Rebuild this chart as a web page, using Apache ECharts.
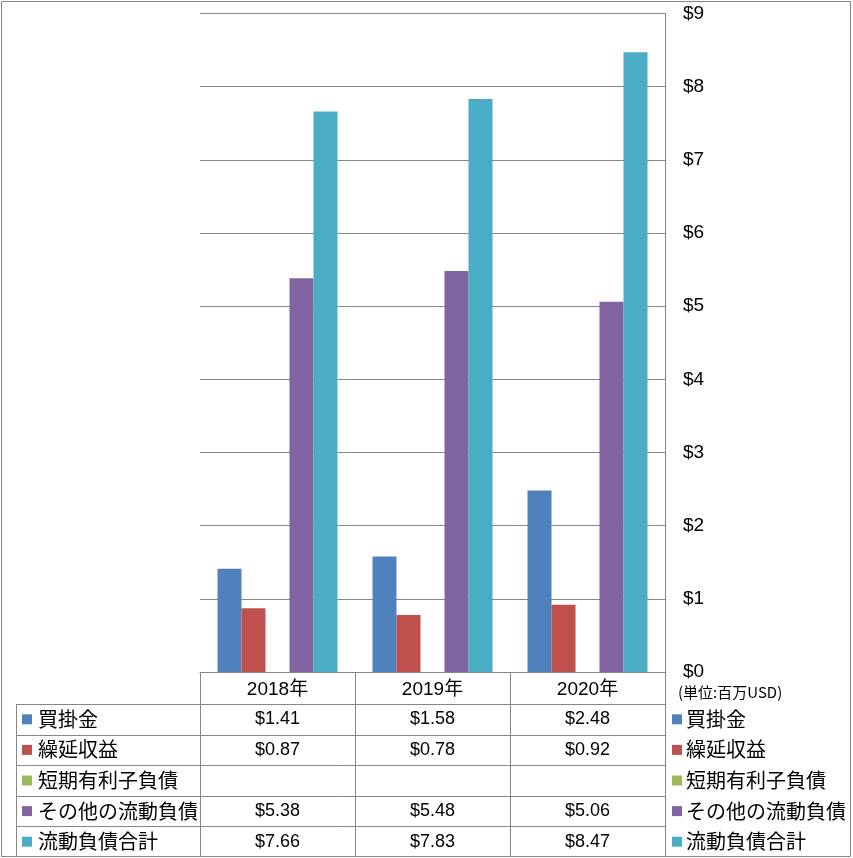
<!DOCTYPE html>
<html>
<head>
<meta charset="utf-8">
<script src="https://cdn.jsdelivr.net/npm/echarts@6/dist/echarts.min.js"></script>
<style>html,body{margin:0;padding:0;background:#fff;}#c{width:853px;height:858px;}</style>
</head>
<body>
<div id="c"></div>
<script>
// ---- data ----
const categories = ['2018年', '2019年', '2020年'];
const seriesNames = ['買掛金', '繰延収益', '短期有利子負債', 'その他の流動負債', '流動負債合計'];
const accountsPayable = [1.41, 1.58, 2.48];
const deferredRevenue = [0.87, 0.78, 0.92];
const shortTermDebt = [null, null, null];
const otherCurrent = [5.38, 5.48, 5.06];
const totalCurrent = [7.66, 7.83, 8.47];
const unitLabel = '(単位:百万USD)';
const yTicks = [0, 1, 2, 3, 4, 5, 6, 7, 8, 9];

const seriesValues = [accountsPayable, deferredRevenue, shortTermDebt, otherCurrent, totalCurrent];
const colors = ['#4F81BD', '#C0504D', '#9BBB59', '#8064A2', '#4BACC6'];

// ---- layout ----
const W = 853, H = 858;
const gl = 200, gr = 665, gt = 13.5, gb = 672;
const lineColor = '#868686';
const cjk = "'Noto Sans CJK JP', sans-serif";
const num = "'Liberation Sans', sans-serif";
const rowTop = 704, rowH = 30.6, tableBottom = 856.5, tableLeft = 16.5;
const colW = (gr - gl) / categories.length;

const chart = echarts.init(document.getElementById('c'), null, {renderer: 'canvas'});

const graphics = [];
// outer border
graphics.push({type: 'rect', shape: {x: 1.5, y: 1.5, width: 849, height: 855}, style: {fill: null, stroke: lineColor, lineWidth: 1}, silent: true});
// vertical lines of table
for (let i = 0; i <= categories.length; i++) {
  const x = Math.round(gl + i * colW) + 0.5;
  const y1 = (i === categories.length) ? gt : gb;
  graphics.push({type: 'line', shape: {x1: x, y1: y1, x2: x, y2: tableBottom}, style: {stroke: lineColor, lineWidth: 1}, silent: true});
}
// left border of table
graphics.push({type: 'line', shape: {x1: tableLeft, y1: rowTop, x2: tableLeft, y2: tableBottom}, style: {stroke: lineColor, lineWidth: 1}, silent: true});
// horizontal row lines
for (let r = 0; r < seriesNames.length; r++) {
  const y = Math.round(rowTop + r * rowH) + 0.5;
  graphics.push({type: 'line', shape: {x1: tableLeft, y1: y, x2: gr, y2: y}, style: {stroke: lineColor, lineWidth: 1}, silent: true});
}
// row labels, values, right legend
seriesNames.forEach((name, r) => {
  const cy = rowTop + r * rowH + rowH / 2;
  // left label
  graphics.push({type: 'rect', shape: {x: 22, y: cy - 5, width: 10, height: 10}, style: {fill: colors[r]}, silent: true});
  graphics.push({type: 'text', x: 38, y: cy, style: {text: name, font: '20px ' + cjk, fill: '#000', textVerticalAlign: 'middle', textAlign: 'left'}, silent: true});
  // right legend
  graphics.push({type: 'rect', shape: {x: 672, y: cy - 5, width: 10, height: 10}, style: {fill: colors[r]}, silent: true});
  graphics.push({type: 'text', x: 686, y: cy, style: {text: name, font: '20px ' + cjk, fill: '#000', textVerticalAlign: 'middle', textAlign: 'left'}, silent: true});
  // values
  seriesValues[r].forEach((v, c) => {
    if (v === null) return;
    graphics.push({type: 'text', x: gl + c * colW + colW / 2, y: cy, style: {text: '$' + v.toFixed(2), font: '18px ' + num, fill: '#000', textVerticalAlign: 'middle', textAlign: 'center'}, silent: true});
  });
});
// unit label
graphics.push({type: 'text', x: 678, y: 692, style: {text: unitLabel, font: '15px ' + cjk, fill: '#000', textVerticalAlign: 'middle', textAlign: 'left'}, silent: true});

chart.setOption({
  animation: false,
  backgroundColor: '#fff',
  grid: {left: gl, right: W - gr, top: gt, bottom: H - gb, containLabel: false},
  xAxis: {
    type: 'category',
    data: categories,
    axisLine: {show: true, lineStyle: {color: lineColor, width: 1}},
    axisTick: {show: false},
    axisLabel: {show: true, margin: 8, fontSize: 19, fontFamily: "'Liberation Sans', 'Noto Sans CJK JP', sans-serif", color: '#000', lineHeight: 19}
  },
  yAxis: {
    type: 'value',
    position: 'right',
    min: yTicks[0],
    max: yTicks[yTicks.length - 1],
    interval: 1,
    axisLine: {show: true, lineStyle: {color: lineColor}},
    axisTick: {show: false},
    splitLine: {show: true, lineStyle: {color: lineColor, width: 1}},
    axisLabel: {margin: 18, fontSize: 19, fontFamily: num, color: '#000', formatter: v => '$' + v}
  },
  series: seriesNames.map((name, i) => ({
    name: name,
    type: 'bar',
    data: seriesValues[i],
    itemStyle: {color: colors[i]},
    barGap: '0%',
    barCategoryGap: '22.6%'
  })),
  graphic: graphics
});
</script>
</body>
</html>
